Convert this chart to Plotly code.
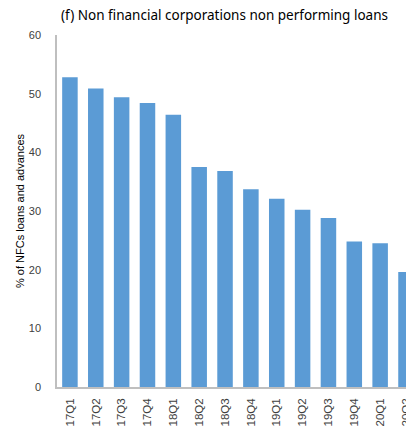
import plotly.graph_objects as go

categories = ["17Q1", "17Q2", "17Q3", "17Q4", "18Q1", "18Q2", "18Q3", "18Q4",
              "19Q1", "19Q2", "19Q3", "19Q4", "20Q1", "20Q2"]
npl_ratio = [52.8, 50.9, 49.4, 48.4, 46.4, 37.5, 36.8, 33.7,
             32.1, 30.2, 28.8, 24.8, 24.5, 19.6]
y_ticks = [0, 10, 20, 30, 40, 50, 60]

fig = go.Figure(go.Bar(
    x=categories, y=npl_ratio,
    marker=dict(color="#5B9BD5", line=dict(width=0)),
))

W, H = 406, 427
ml, mr, mt, mb = 57, 0, 35, 40
pw = W - ml - mr

fig.update_layout(
    width=W, height=H,
    margin=dict(l=ml, r=mr, t=mt, b=mb, autoexpand=False),
    plot_bgcolor="white", paper_bgcolor="white",
    bargap=0.4,
    showlegend=False,
    title=dict(text="(f) Non financial corporations non performing loans",
               font=dict(family="Noto Sans", size=13.5, color="#000000"),
               x=(61 - ml) / pw, xref="paper", xanchor="left",
               y=1 - 15 / H, yref="container", yanchor="middle"),
    font=dict(family="Liberation Sans", size=11, color="#404040"),
)
fig.update_xaxes(
    type="category", range=[-0.5, len(categories) - 1],
    tickangle=-90, showline=True, linecolor="#BFBFBF", linewidth=1.5,
    showgrid=False, ticks="", automargin=False, ticklabelstandoff=5,
    tickfont=dict(family="Liberation Sans", size=11.5, color="#404040"),
)
fig.update_yaxes(
    range=[0, 60], tickvals=y_ticks, showline=True, linecolor="#BFBFBF", linewidth=1.5,
    showgrid=False, zeroline=False, ticks="", automargin=False, ticklabelstandoff=12,
    tickfont=dict(family="Liberation Sans", size=11, color="#404040"),
)
fig.add_annotation(
    text="% of NFCs loans and advances", textangle=-90,
    xref="paper", yref="paper", x=(20 - ml) / pw, y=0.5,
    xanchor="center", yanchor="middle", showarrow=False,
    font=dict(family="Liberation Sans", size=11, color="#000000"),
)
fig.write_html("out.html", config={"displayModeBar": False},
               post_script="document.body.style.margin='0';document.body.style.overflow='hidden';")
